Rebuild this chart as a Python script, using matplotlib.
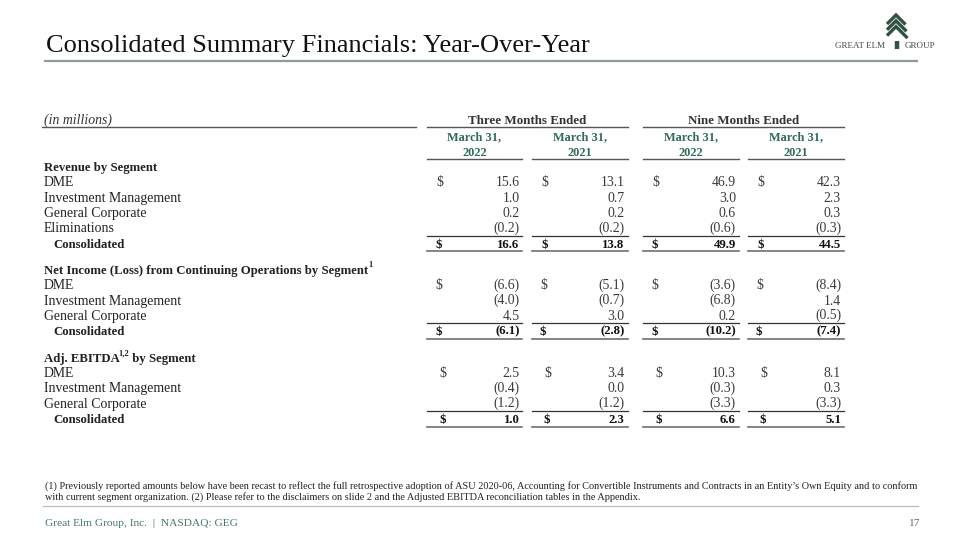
import matplotlib
matplotlib.use("Agg")
import matplotlib.pyplot as plt

# ---------------- data ----------------
title = "Consolidated Summary Financials: Year-Over-Year"
units_label = "(in millions)"
period_groups = ["Three Months Ended", "Nine Months Ended"]
col_month = ["March 31,", "March 31,", "March 31,", "March 31,"]
col_year = ["2022", "2021", "2022", "2021"]

rev_heading = "Revenue by Segment"
rev_labels = ["DME", "Investment Management", "General Corporate", "Eliminations"]
rev_q_2022 = [15.6, 1.0, 0.2, -0.2]
rev_q_2021 = [13.1, 0.7, 0.2, -0.2]
rev_n_2022 = [46.9, 3.0, 0.6, -0.6]
rev_n_2021 = [42.3, 2.3, 0.3, -0.3]
rev_totals = [16.6, 13.8, 49.9, 44.5]

ni_heading = "Net Income (Loss) from Continuing Operations by Segment"
ni_labels = ["DME", "Investment Management", "General Corporate"]
ni_q_2022 = [-6.6, -4.0, 4.5]
ni_q_2021 = [-5.1, -0.7, 3.0]
ni_n_2022 = [-3.6, -6.8, 0.2]
ni_n_2021 = [-8.4, 1.4, -0.5]
ni_totals = [-6.1, -2.8, -10.2, -7.4]

eb_heading = ("Adj. EBITDA", "1,2", " by Segment")
eb_labels = ["DME", "Investment Management", "General Corporate"]
eb_q_2022 = [2.5, -0.4, -1.2]
eb_q_2021 = [3.4, 0.0, -1.2]
eb_n_2022 = [10.3, -0.3, -3.3]
eb_n_2021 = [8.1, 0.3, -3.3]
eb_totals = [1.0, 2.3, 6.6, 5.1]

total_label = "Consolidated"
footnote_1 = ("(1) Previously reported amounts below have been recast to reflect the full retrospective "
              "adoption of ASU 2020-06, Accounting for Convertible Instruments and Contracts in an "
              "Entity\u2019s Own Equity and to conform")
footnote_2 = ("with current segment organization. (2) Please refer to the disclaimers on slide 2 and the "
              "Adjusted EBITDA reconciliation tables in the Appendix.")
footer_text = "Great Elm Group, Inc.  |  NASDAQ: GEG"
page_number = "17"

sections = [
    (rev_heading, "", rev_labels, [rev_q_2022, rev_q_2021, rev_n_2022, rev_n_2021], rev_totals),
    (ni_heading, "1", ni_labels, [ni_q_2022, ni_q_2021, ni_n_2022, ni_n_2021], ni_totals),
    (eb_heading, None, eb_labels, [eb_q_2022, eb_q_2021, eb_n_2022, eb_n_2021], eb_totals),
]

# ---------------- style ----------------
SERIF = "Liberation Serif"
GREEN = "#2f6b58"
FOOT_GREEN = "#3f7c60"
DARK = "#222222"
VAL = "#3a3a3a"
RULE = "#555555"

fig = plt.figure(figsize=(9.6, 5.4), dpi=100)
ax = fig.add_axes([0, 0, 1, 1])
ax.set_xlim(0, 960)
ax.set_ylim(540, 0)
ax.axis("off")
fig.patch.set_facecolor("white")
r = fig.canvas.get_renderer()


def fit(s, width, **kw):
    t = ax.text(0, 0, s, fontsize=10, family=SERIF, **kw)
    w = t.get_window_extent(renderer=r).width
    t.remove()
    return 10.0 * width / w


def fmt(v):
    return f"({abs(v):.1f})" if v < 0 else f"{v:.1f}"


body_fs = fit("Investment Management", 137)
bold_fs = fit("Net Income (Loss) from Continuing Operations by Segment", 327, weight="bold")
hdr_fs = fit("Three Months Ended", 119, weight="bold")
col_fs = fit("March 31,", 54, weight="bold")
title_fs = fit(title, 545)
note_fs = fit(footnote_1, 871)
foot_fs = fit(footer_text, 192)
sup_fs = bold_fs * 0.66

# ---------------- title & logo ----------------
ax.text(46, 52, title, fontsize=title_fs, family=SERIF, color="#111111", va="baseline", ha="left")
ax.plot([44, 918], [60.5, 60.5], color="#8a9e93", lw=1.6, solid_capstyle="butt")

logo_c = "#2f5242"
for i in range(3):
    apex = 15 + 5.8 * i
    dl, dr = 9, 9.5 + 1.0 * i
    ax.plot([896 - dl, 896, 896 + dr], [apex + dl, apex, apex + dr],
            color=logo_c, lw=2.4, solid_joinstyle="miter", solid_capstyle="butt")
ax.plot([896.5, 896.5], [41, 49], color=logo_c, lw=3.2, solid_capstyle="butt")
logo_fs = fit("GREAT ELM", 50)
ax.text(835, 48, "GREAT ELM", fontsize=logo_fs, family=SERIF, color="#3c4a42", va="baseline")
ax.text(905, 48, "GROUP", fontsize=logo_fs, family=SERIF, color="#3c4a42", va="baseline")

# ---------------- table header ----------------
col_left = [427, 532, 643, 748]
col_right = [522, 627.5, 739, 844]
dollar_x = [436, 541, 652, 757]
dollar_shift = [0, -1, 3]
value_x = [519.5, 624.5, 736, 841]

ax.text(44, 124, units_label, fontsize=body_fs, family=SERIF, style="italic", color="#333333", va="baseline")
ax.plot([42, 416], [127.3, 127.3], color=RULE, lw=1.0)
for g, name in enumerate(period_groups):
    x0, x1 = col_left[2 * g], col_right[2 * g + 1]
    ax.text((x0 + x1) / 2, 124.5, name, fontsize=hdr_fs, family=SERIF, weight="bold",
            color="#333333", ha="center", va="baseline")
    ax.plot([x0, x1], [127.3, 127.3], color=RULE, lw=1.0)
for i in range(4):
    cx = (col_left[i] + col_right[i]) / 2
    ax.text(cx, 140, col_month[i], fontsize=col_fs, family=SERIF, weight="bold",
            color=GREEN, ha="center", va="baseline")
    ax.text(cx, 156, col_year[i], fontsize=col_fs, family=SERIF, weight="bold",
            color=GREEN, ha="center", va="baseline")
    ax.plot([col_left[i], col_right[i]], [159.3, 159.3], color=RULE, lw=1.0)

# ---------------- table body ----------------
step = 15.35
gap = 26.3
y = 171
for si, (heading, sup, labels, cols, totals) in enumerate(sections):
    if isinstance(heading, tuple):
        t1 = ax.text(44, y, heading[0], fontsize=bold_fs, family=SERIF, weight="bold",
                     color=DARK, va="baseline")
        s = ax.annotate(heading[1], xy=(1, 1), xycoords=t1, xytext=(-1.0, 2.6),
                        textcoords="offset points", fontsize=sup_fs, family=SERIF,
                        weight="bold", color=DARK, ha="left", va="top")
        ax.annotate(heading[2], xy=(1, 0), xycoords=(s, t1), fontsize=bold_fs, family=SERIF,
                    weight="bold", color=DARK, ha="left", va="bottom")
    else:
        t1 = ax.text(44, y, heading, fontsize=bold_fs, family=SERIF, weight="bold",
                     color=DARK, va="baseline")
        if sup:
            ax.annotate(sup, xy=(1, 1), xycoords=t1, xytext=(0.3, 2.6),
                        textcoords="offset points", fontsize=sup_fs, family=SERIF,
                        weight="bold", color=DARK, ha="left", va="top")
    dx = dollar_shift[si]
    for k, lab in enumerate(labels):
        yy = y + step * (k + 1)
        ax.text(44, yy, lab, fontsize=body_fs, family=SERIF, color=DARK, va="baseline")
        for c in range(4):
            if k == 0:
                ax.text(dollar_x[c] + dx, yy, "$", fontsize=body_fs, family=SERIF, color=VAL, va="baseline")
            v = cols[c][k]
            ax.text(value_x[c], yy - (0.9 if v < 0 else 0), fmt(v), fontsize=body_fs, family=SERIF,
                    color=VAL, ha="right", va="baseline")
    yt = y + step * (len(labels) + 1)
    ax.text(53, yt, total_label, fontsize=bold_fs, family=SERIF, weight="bold", color=DARK, va="baseline")
    for c in range(4):
        v = totals[c]
        ax.text(dollar_x[c] + dx, yt, "$", fontsize=bold_fs, family=SERIF, weight="bold",
                color="#111111", va="baseline")
        ax.text(value_x[c], yt - (0.9 if v < 0 else 0), fmt(v), fontsize=bold_fs, family=SERIF,
                weight="bold", color="#111111", ha="right", va="baseline")
        ax.plot([col_left[c], col_right[c]], [yt - 12.2, yt - 12.2], color="#333333", lw=0.9)
        ax.plot([col_left[c], col_right[c]], [yt + 3.4, yt + 3.4], color="#6f6f6f", lw=1.2)
    y = yt + gap

# ---------------- footnotes & footer ----------------
ax.text(45, 488.5, footnote_1, fontsize=note_fs, family=SERIF, color="#222222", va="baseline")
ax.text(45, 500, footnote_2, fontsize=note_fs, family=SERIF, color="#222222", va="baseline")
ax.plot([43, 918], [505.5, 505.5], color="#bdbdbd", lw=0.9)
ax.text(45, 525.5, footer_text, fontsize=foot_fs, family=SERIF, color=FOOT_GREEN, va="baseline")
ax.text(920, 525.5, page_number, fontsize=foot_fs, family=SERIF, color="#666666", ha="right", va="baseline")

fig.savefig("out.png", dpi=100, facecolor="white")
